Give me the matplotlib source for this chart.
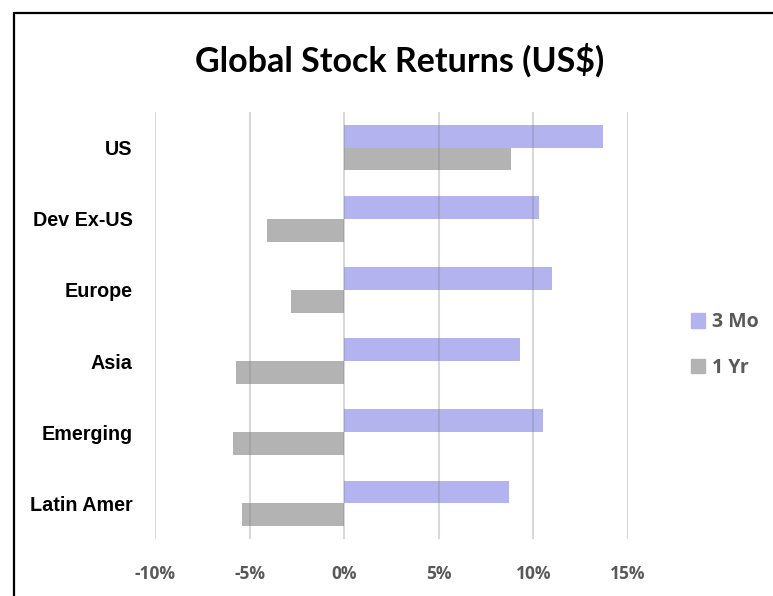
import numpy as np
import matplotlib.pyplot as plt
from matplotlib.patches import Patch, Rectangle
from matplotlib.ticker import FuncFormatter

# data (percent)
regions = ['US', 'Dev Ex-US', 'Europe', 'Asia', 'Emerging', 'Latin Amer']
ret_3mo = [13.7, 10.3, 11.0, 9.3, 10.5, 8.7]
ret_1yr = [8.8, -4.1, -2.8, -5.7, -5.9, -5.4]
series_names = ['3 Mo', '1 Yr']
xticks = [-10, -5, 0, 5, 10, 15]

c_3mo = '#B3B3EF'
c_1yr = '#B3B3B3'
grey_txt = '#595959'

fig = plt.figure(figsize=(7.73, 5.96), dpi=100)
ax = fig.add_axes([155 / 773, 57 / 596, (628 - 155) / 773, (539 - 112) / 596])

y = np.arange(len(regions))
h = 0.32
ax.barh(y - h / 2, ret_3mo, height=h, color=c_3mo, zorder=1)
ax.barh(y + h / 2, ret_1yr, height=h, color=c_1yr, zorder=1)

ax.set_xlim(-10, 15)
ax.set_ylim(len(regions) - 0.5, -0.5)
ax.set_xticks(xticks)
ax.xaxis.set_major_formatter(FuncFormatter(lambda v, p: '%d%%' % v))
ax.set_yticks(y)
ax.set_yticklabels(regions)

# gridlines sit over the bars, light grey
ax.grid(axis='x', color='#808080', alpha=0.3, linewidth=1.5, zorder=3)
ax.set_axisbelow(False)
for s in ax.spines.values():
    s.set_visible(False)
ax.tick_params(length=0)
ax.tick_params(axis='x', pad=19, labelsize=12.5, labelcolor=grey_txt)
ax.tick_params(axis='y', pad=16, labelsize=14.2, labelcolor='black')
for t in ax.get_xticklabels():
    t.set_fontweight('bold')
    t.set_family(['Open Sans', 'DejaVu Sans'])
for t in ax.get_yticklabels():
    t.set_fontweight('bold')
    t.set_family(['Liberation Sans Narrow', 'Liberation Sans', 'DejaVu Sans'])

fig.text(400 / 773, 1 - 60 / 596, 'Global Stock Returns (US$)', ha='center', va='center',
         fontsize=24.5, fontweight='bold', family=['Lato', 'DejaVu Sans'])

handles = [Patch(color=c_3mo), Patch(color=c_1yr)]
leg = fig.legend(handles, series_names, loc='center left',
                 bbox_to_anchor=(673 / 773, 1 - 345 / 596), frameon=False,
                 handlelength=0.75, handleheight=0.75, handletextpad=0.35,
                 labelspacing=1.3, prop={'size': 14, 'weight': 'bold',
                                         'family': ['Open Sans', 'DejaVu Sans']})
for t in leg.get_texts():
    t.set_color(grey_txt)

# chart frame
fig.patches.append(Rectangle((14 / 773, -0.1), 1.2, 1 - 13 / 596 + 0.1,
                             transform=fig.transFigure, fill=False,
                             edgecolor='black', linewidth=1.6))

plt.savefig('out.png', dpi=100)
